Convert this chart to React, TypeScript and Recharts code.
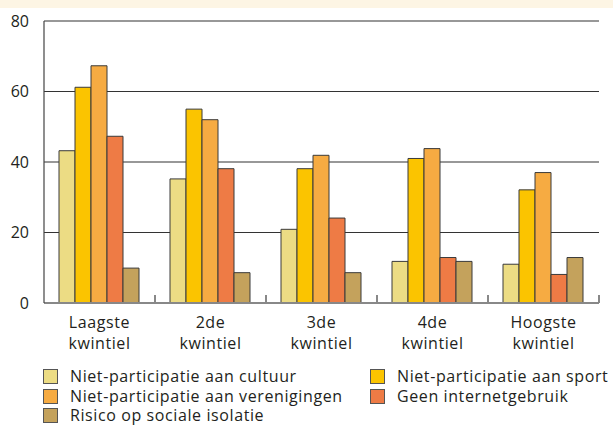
import React from 'react'
import { BarChart, Bar, XAxis, YAxis, CartesianGrid } from 'recharts'

const categories = ['Laagste kwintiel', '2de kwintiel', '3de kwintiel', '4de kwintiel', 'Hoogste kwintiel']

const cultuur = [43.2, 35.2, 20.9, 11.8, 11.0]
const sport = [61.2, 55.0, 38.1, 41.0, 32.1]
const verenigingen = [67.3, 52.0, 41.9, 43.8, 37.0]
const internet = [47.3, 38.1, 24.1, 12.9, 8.1]
const isolatie = [9.9, 8.6, 8.6, 11.8, 12.9]

const yTicks = [0, 20, 40, 60, 80]

const SERIES = [
  { key: 'cultuur', label: 'Niet-participatie aan cultuur', color: '#ecdc84', values: cultuur },
  { key: 'sport', label: 'Niet-participatie aan sport', color: '#fbc400', values: sport },
  { key: 'verenigingen', label: 'Niet-participatie aan verenigingen', color: '#f6ab42', values: verenigingen },
  { key: 'internet', label: 'Geen internetgebruik', color: '#ee7b45', values: internet },
  { key: 'isolatie', label: 'Risico op sociale isolatie', color: '#c4a25c', values: isolatie },
]

const chartData = categories.map((name, i) => {
  const row: any = { name }
  SERIES.forEach(s => { row[s.key] = s.values[i] })
  return row
})

const FONT = '"Open Sans", sans-serif'
const TEXT = '#231f20'
const MARGIN = { top: 21, right: 14, left: 0, bottom: 73 }
const Y_WIDTH = 44
const PLOT_LEFT = MARGIN.left + Y_WIDTH

// two-line category label, plus the small separator mark at the band's right edge
const CategoryTick = ({ x, y, payload, index }: any) => {
  const lines = String(payload.value).split(' ')
  const i = payload.index ?? index ?? 0
  const half = (x - PLOT_LEFT) / (2 * i + 1)
  const edge = x + half
  return (
    <g>
      <line x1={edge} x2={edge} y1={y - 8} y2={y} stroke="#888" strokeWidth={2} />
      <text x={x} y={y} textAnchor="middle" fill={TEXT} fontSize={16} letterSpacing={0.6} fontFamily={FONT}>
        {lines.map((l, k) => (
          <tspan key={k} x={x} dy={k === 0 ? 25 : 21}>{l}</tspan>
        ))}
      </text>
    </g>
  )
}

// legend order: left column then right column, row by row
const legendPos = [
  { col: 0, row: 0 },
  { col: 1, row: 0 },
  { col: 0, row: 1 },
  { col: 1, row: 1 },
  { col: 0, row: 2 },
]

export default function App() {
  return (
    <div style={{ position: 'absolute', left: 0, top: 0, width: 613, height: 426, background: '#fff', fontFamily: FONT }}>
      <div style={{ position: 'absolute', left: 0, top: 0, width: 613, height: 8, background: '#fdf5e4' }} />
      <BarChart
        width={613}
        height={426}
        data={chartData}
        margin={MARGIN}
        barGap={0}
        barCategoryGap={15}
      >
        <CartesianGrid vertical={false} stroke="#333" strokeWidth={1.2} />
        <XAxis
          dataKey="name"
          height={50}
          tickLine={false}
          tickSize={0}
          tickMargin={0}
          axisLine={{ stroke: '#888', strokeWidth: 2 }}
          tick={<CategoryTick />}
          interval={0}
        />
        <YAxis
          domain={[0, 80]}
          ticks={yTicks}
          width={Y_WIDTH}
          tickLine={false}
          tickSize={0}
          tickMargin={15}
          axisLine={{ stroke: '#444', strokeWidth: 1.2 }}
          tick={{ fill: TEXT, fontSize: 16, fontFamily: FONT }}
        />
        {SERIES.map(s => (
          <Bar
            key={s.key}
            dataKey={s.key}
            fill={s.color}
            stroke="#3a3a3a"
            strokeWidth={1}
            isAnimationActive={false}
          />
        ))}
      </BarChart>
      {SERIES.map((s, i) => {
        const p = legendPos[i]
        const left = p.col === 0 ? 43 : 370
        const top = 369 + p.row * 19.5
        return (
          <div key={s.key} style={{ position: 'absolute', left, top, display: 'flex', alignItems: 'center', height: 15 }}>
            <div style={{ width: 13, height: 13, background: s.color, border: '1px solid #555' }} />
            <span style={{ display: 'block', marginLeft: 12, fontSize: 16, letterSpacing: 0.6, color: TEXT, whiteSpace: 'nowrap', lineHeight: '15px', height: 15 }}>
              {s.label}
            </span>
          </div>
        )
      })}
    </div>
  )
}
